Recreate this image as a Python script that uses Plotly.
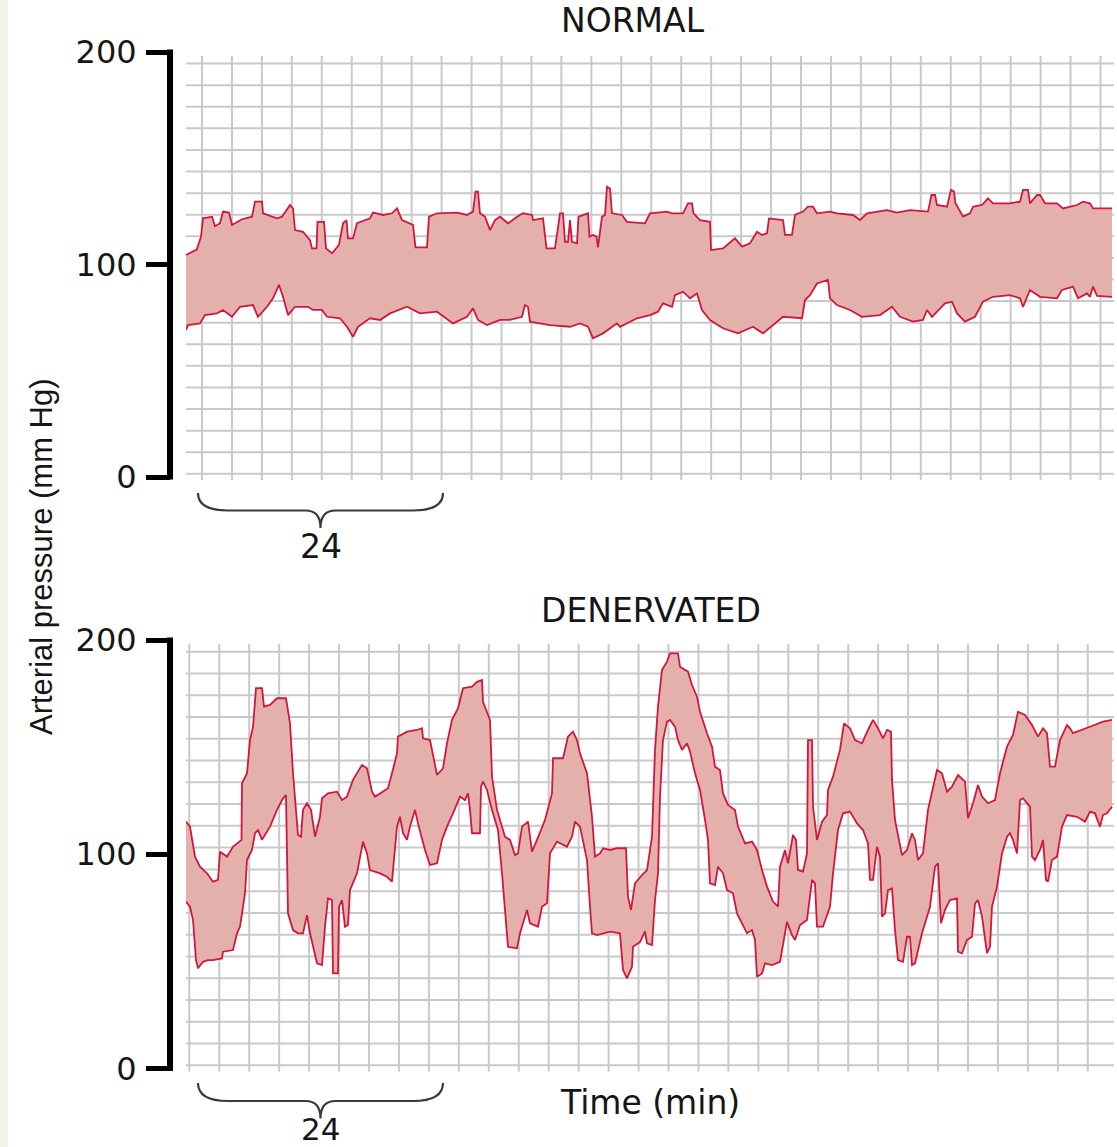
import plotly.graph_objects as go

# ---------------- DATA (time in minutes, pressure in mm Hg) ----------------
normal_sys_t = [0.0, 1.07, 1.5, 1.7, 2.6, 2.9, 3.4, 3.7, 4.3, 4.6, 5.6, 6.6, 6.9, 7.6, 7.7, 9.1, 9.6, 10.4, 10.7, 10.9,
                11.7, 12.4, 12.6, 13.05, 13.15, 13.8, 14.0, 14.6, 15.3, 15.7, 16.05, 16.2, 16.7, 17.1, 18.4, 18.7, 19.7,
                20.6, 21.1, 21.6, 22.7, 22.95, 24.1, 24.3, 25.1, 27.1, 28.1, 28.7, 28.95, 29.2, 29.4, 29.9, 30.4, 30.9,
                31.4, 32.2, 33.1, 33.7, 34.6, 34.7, 35.7, 36.05, 36.9, 37.4, 37.7, 37.9, 38.2, 38.4, 38.6, 39.1, 39.25,
                40.2, 40.35, 40.7, 41.05, 41.2, 41.6, 41.9, 42.1, 42.4, 42.6, 43.6, 44.1, 45.9, 46.4, 48.1, 48.6, 49.7,
                50.2, 50.6, 50.75, 51.4, 52.4, 52.5, 53.7, 54.9, 55.6, 56.4, 57.1, 57.6, 58.1, 58.3, 59.7, 59.9, 60.6,
                60.9, 61.7, 62.2, 62.7, 63.1, 64.4, 65.1, 66.7, 67.4, 68.1, 70.1, 71.1, 72.4, 74.2, 74.55, 74.9, 75.1,
                76.1, 76.5, 76.8, 76.95, 77.7, 78.4, 78.7, 79.6, 80.2, 80.7, 82.4, 83.4, 83.7, 84.2, 84.4, 85.1, 85.4,
                85.9, 87.1, 87.7, 89.1, 89.7, 90.4, 90.7, 92.6]
normal_sys_v = [104.5, 107, 113, 121.7, 122.5, 118, 119.4, 124.9, 124.4, 118.6, 121.3, 122.5, 129.6, 129.6, 124.1, 121.7,
                122.5, 128, 126.4, 116.2, 115.4, 111.5, 107.6, 107.6, 120.1, 120.1, 107.6, 105.3, 109.2, 119.4, 120.9,
                112.3, 112.3, 119.4, 121.7, 124.4, 123.3, 124.1, 126.4, 120.9, 118.6, 108.1, 108.1, 122.5, 124.1, 124.4,
                123.3, 124.9, 134.3, 134.3, 124.1, 122.5, 116.2, 120.9, 122.5, 119.4, 122.5, 124.1, 123.3, 120.9, 121.7,
                107.6, 107.6, 124.1, 124.1, 110.7, 110.7, 120.9, 110.7, 110, 122.5, 124.1, 113.1, 113.9, 113.1, 108.1,
                122.5, 123.3, 136.6, 135.8, 124.1, 123.3, 120.1, 119.4, 124.1, 124.9, 124.1, 124.1, 128.8, 128.8, 124.1,
                120.9, 120.1, 106.8, 107.6, 112.3, 108.4, 110, 115.4, 113.9, 114.7, 121.7, 120.9, 113.9, 113.9, 123.3,
                124.9, 127.2, 127.2, 124.1, 124.9, 124.1, 123.3, 120.9, 124.1, 125.6, 124.4, 125.6, 124.9, 132.7, 132.7,
                128, 127.2, 135.1, 134.3, 128.8, 122.5, 124.1, 127.2, 128, 131.1, 128.8, 128.8, 129.6, 135.1, 135.1,
                128.8, 132.7, 132.7, 128.8, 128.8, 126.4, 128, 129.6, 128.8, 126.4, 126.4]

normal_dia_t = [0.0, 0.2, 1.4, 1.9, 3.1, 3.7, 4.6, 5.4, 6.7, 7.2, 8.1, 8.7, 9.3, 9.7, 10.2, 10.9, 12.2, 12.7, 13.6, 14.1,
                15.4, 16.1, 16.7, 17.2, 18.4, 19.4, 20.4, 22.1, 23.4, 25.1, 26.7, 28.1, 28.7, 29.2, 30.1, 31.4, 32.4,
                33.6, 33.9, 34.2, 34.4, 36.4, 38.4, 39.4, 40.2, 40.7, 41.7, 43.1, 43.4, 45.1, 46.4, 47.2, 47.7, 48.6,
                48.9, 49.7, 50.4, 51.1, 51.6, 52.4, 53.7, 55.2, 56.7, 57.7, 59.7, 61.6, 61.9, 62.4, 63.1, 64.2, 64.4,
                65.1, 66.4, 67.6, 69.4, 70.6, 71.4, 72.7, 73.7, 74.1, 74.6, 75.9, 76.6, 77.1, 77.9, 78.9, 79.7, 80.7,
                82.4, 83.4, 83.7, 84.4, 85.4, 87.1, 87.6, 88.7, 89.2, 90.1, 90.4, 90.7, 91.1, 92.6]
normal_dia_v = [69.2, 71.5, 72.3, 76.2, 77, 78.6, 75.4, 80.1, 80.9, 75.4, 80.1, 84.1, 90.4, 84.8, 76.2, 80.1, 80.1, 78.6,
                78.6, 75.4, 74.7, 70.7, 66, 70.7, 74.7, 73.9, 77, 80.1, 77, 77.8, 72.3, 75.4, 79.4, 73.9, 71.5, 73.9,
                73.9, 75.4, 80.9, 80.1, 73.1, 71.5, 70.7, 72.3, 70.7, 65.3, 67.6, 72.3, 70.7, 74.7, 76.2, 77.8, 81.7,
                80.1, 85.6, 87.2, 84.1, 86.4, 78.6, 73.9, 70, 67.6, 70.7, 67.6, 75.4, 74.7, 83.3, 85.6, 91.1, 92.7,
                84.1, 80.9, 78.6, 75.4, 76.2, 80.1, 75.4, 73.1, 73.9, 78.6, 75.4, 81.7, 82.5, 77, 73.1, 75.4, 82.5,
                84.8, 85.6, 84.1, 80.1, 88, 84.8, 84.1, 88, 89.6, 84.1, 86.4, 84.8, 89.6, 85.2, 84.8]

denerv_sys_t = [0.0, 0.4, 0.9, 1.4, 2.1, 2.7, 3.2, 3.4, 4.1, 4.7, 5.55, 5.6, 6.1, 6.4, 6.7, 7.0, 7.6, 7.8, 8.4, 9.1,
                10.0, 10.4, 10.7, 10.9, 11.2, 11.5, 11.7, 12.1, 12.5, 12.9, 13.4, 13.6, 14.2, 15.1, 15.6, 16.1, 16.7,
                17.6, 18.1, 18.6, 18.9, 19.4, 20.2, 20.6, 21.1, 21.2, 22.1, 23.1, 23.6, 23.7, 24.4, 25.1, 25.7, 26.1,
                26.6, 27.2, 27.7, 28.6, 29.1, 29.6, 29.7, 30.4, 30.6, 31.1, 31.9, 32.4, 32.9, 33.2, 33.6, 34.2, 34.6,
                35.1, 35.9, 36.6, 36.7, 37.7, 38.2, 38.7, 39.1, 39.4, 40.1, 40.6, 40.9, 41.4, 41.7, 42.4, 43.1, 44.0,
                44.2, 44.5, 44.9, 45.6, 46.1, 46.6, 46.9, 47.2, 47.6, 48.1, 48.4, 49.2, 49.4, 50.2, 50.6, 51.1, 51.4,
                52.1, 52.6, 52.9, 53.4, 53.7, 54.2, 54.9, 55.2, 55.9, 56.6, 57.1, 57.6, 58.1, 58.7, 59.2, 59.4, 59.9,
                60.2, 60.7, 61.0, 61.2, 61.7, 62.1, 62.2, 62.6, 62.7, 63.1, 63.6, 64.1, 64.2, 64.7, 65.4, 65.8, 66.4,
                66.9, 67.6, 68.2, 68.7, 69.2, 69.7, 70.1, 70.5, 70.6, 70.9, 71.6, 72.1, 72.6, 72.9, 73.2, 73.7, 74.2,
                74.6, 75.1, 75.6, 76.1, 76.6, 77.2, 77.9, 78.2, 78.7, 79.2, 79.6, 80.2, 80.9, 81.4, 82.1, 82.7, 83.2,
                83.9, 84.6, 85.2, 85.7, 86.1, 86.4, 86.9, 87.4, 88.1, 88.4, 88.7, 90.4, 91.7, 92.6]
denerv_sys_v = [115.2, 112.9, 98.9, 94.2, 91.1, 87.2, 88, 101.2, 98.9, 103.5, 106.7, 133.1, 137.8, 153.3, 159.5, 177.5,
                177.5, 168.9, 169.7, 172.8, 172.8, 161.1, 137.8, 126.9, 109, 108.2, 120.7, 123.8, 120.7, 108.2, 117.5,
                126.1, 128.4, 129.2, 125.3, 126.9, 134.7, 141.7, 140.1, 129.2, 126.9, 128.4, 130.8, 137.8, 147.1, 154.9,
                157.2, 158, 158.8, 154.1, 153.3, 137, 140.1, 151.8, 162.7, 168.1, 177.5, 178.2, 180.5, 181.3, 171.2,
                162.7, 136.2, 120.7, 108.2, 106.7, 99.6, 100.4, 112.9, 115.2, 101.2, 106.7, 116, 128.4, 144.8, 144.8,
                154.9, 157.2, 153.3, 147.1, 137.8, 117.5, 98.9, 100.4, 102.8, 102, 102.8, 102.8, 80.2, 74, 86.4, 90.3,
                92.6, 108.2, 148.7, 168.9, 186, 189.9, 193.8, 193.8, 187.5, 185.2, 179, 173.5, 166.5, 156.5, 150.2,
                140.9, 139.3, 128.4, 123, 120.7, 112.9, 105.1, 105.9, 102, 92.6, 84.9, 77.9, 75.5, 94.2, 102, 95.8,
                109, 106.7, 92.6, 91.9, 100.4, 153.3, 153.3, 122.2, 106.7, 115.2, 118.3, 130, 136.2, 148.7, 161.1,
                158.8, 153.3, 151.8, 158, 162.7, 158.8, 154.1, 158, 157.2, 134.7, 116, 99.6, 102, 109.8, 106.7, 97.3,
                100.4, 120.7, 128.4, 139.3, 137.8, 129.2, 131.5, 137, 133.9, 116.8, 123.8, 132.3, 126.9, 123.8, 125.3,
                137.8, 150.2, 155.7, 166.5, 165, 160.3, 154.9, 158.8, 156.5, 140.9, 140.9, 153.3, 160.3, 158.8, 156.5,
                159.5, 161.9, 162.7]

denerv_dia_t = [0.0, 0.4, 0.7, 1.0, 1.2, 1.7, 2.2, 2.7, 3.6, 3.7, 4.7, 5.1, 5.4, 5.7, 5.9, 6.1, 6.6, 6.9, 7.2, 7.6, 8.4,
                9.1, 9.6, 10.0, 10.1, 10.2, 10.7, 11.2, 11.7, 12.1, 12.4, 12.7, 13.1, 13.6, 13.9, 14.2, 14.6, 14.7,
                15.2, 15.3, 15.6, 15.9, 16.2, 16.4, 17.1, 17.7, 18.1, 18.4, 19.4, 20.1, 20.6, 21.1, 21.4, 21.7, 22.1,
                22.4, 22.9, 23.2, 23.9, 24.4, 25.1, 25.6, 26.1, 26.7, 27.4, 27.9, 28.2, 28.4, 28.6, 29.4, 29.5, 29.7,
                30.1, 30.6, 31.2, 31.6, 31.9, 32.2, 33.1, 33.4, 34.1, 34.4, 35.2, 35.6, 36.1, 36.4, 37.1, 38.1, 38.6,
                38.9, 39.4, 40.1, 40.4, 40.6, 41.1, 41.7, 42.4, 43.4, 43.7, 44.1, 44.6, 44.7, 45.4, 45.9, 46.1, 46.6,
                46.9, 47.2, 47.4, 47.7, 48.1, 48.4, 48.9, 49.2, 49.6, 50.1, 50.4, 50.9, 51.4, 51.9, 52.2, 52.4, 52.9,
                53.2, 53.7, 54.1, 54.7, 55.1, 55.6, 56.1, 56.6, 56.9, 57.1, 57.6, 57.9, 58.6, 59.4, 59.7, 60.1, 60.6,
                60.9, 61.4, 62.1, 62.6, 62.9, 63.1, 63.7, 64.4, 64.7, 65.2, 65.7, 66.4, 67.1, 67.7, 68.2, 68.4, 68.7,
                69.1, 69.4, 69.6, 69.9, 70.2, 70.6, 70.9, 71.2, 71.7, 72.1, 72.4, 72.6, 72.9, 73.6, 74.4, 74.9, 75.2,
                75.5, 75.9, 76.4, 77.1, 77.2, 77.6, 78.1, 78.6, 78.9, 79.2, 79.6, 80.1, 80.4, 80.6, 81.1, 81.6, 82.1,
                82.4, 82.7, 83.1, 83.4, 83.7, 84.4, 84.6, 84.9, 85.4, 85.7, 86.0, 86.2, 86.6, 87.1, 87.6, 88.1, 89.1,
                89.9, 90.4, 90.9, 91.4, 91.7, 92.1, 92.6]
denerv_dia_v = [77.9, 75.5, 69.3, 50.6, 46.8, 49.8, 50.6, 50.6, 51.4, 54.5, 55.3, 63.1, 66.2, 75.5, 81.8, 97.3, 102, 109.8,
                111.3, 106.7, 112.9, 120.7, 125.3, 127.7, 106.7, 72.4, 64.6, 63.1, 63.1, 71.6, 63.1, 56.8, 49.1, 48.3,
                66.2, 79.4, 78.6, 44.4, 44.4, 75.5, 78.6, 66.2, 67, 83.3, 91.1, 105.9, 100.4, 92.6, 91.1, 89.5, 87.2,
                112.9, 117.5, 109.8, 106.7, 112.9, 120.7, 114.4, 102, 95, 95.8, 106.7, 112.9, 119.1, 126.9, 125.3,
                128.4, 120.7, 109.8, 109.8, 131.5, 133.9, 130, 120.7, 111.3, 91.1, 72.4, 56.8, 56.1, 63.1, 74, 67.8,
                66.2, 75.5, 77.1, 100.4, 105.9, 103.5, 108.2, 115.2, 112.9, 97.3, 75.5, 63.1, 62.3, 63.1, 63.9, 63.1,
                46, 42.1, 47.5, 56.8, 59, 64, 58.4, 57.6, 78.6, 91.1, 126.9, 153.3, 161.9, 162.7, 159.5, 153.3, 148.7,
                151.8, 147.9, 137.8, 130, 116, 106.7, 86.4, 85.6, 94.2, 91.1, 83.3, 81.8, 72.4, 67.8, 63.1, 64.6, 60,
                42.8, 44.4, 49.1, 48.3, 49.8, 58.4, 68.5, 62.3, 60, 67, 69.3, 88, 86.4, 66.2, 66.2, 75.5, 91.1, 111.3,
                119.1, 119.9, 114.4, 111.3, 105.1, 88, 88, 103.5, 98.9, 70.9, 72.4, 83.3, 84.1, 64.6, 50.6, 49.8, 61.5,
                61.5, 48.3, 49.1, 63.1, 75.5, 94.2, 95.8, 67.8, 74, 78.6, 79.4, 54.5, 53.8, 60, 61.5, 77.1, 78.6, 70.9,
                53.8, 56.8, 75.5, 84.9, 100.4, 108.2, 109.8, 106.7, 100.4, 125.3, 126.1, 122.2, 98.9, 97.3, 102, 106.7,
                88, 87.2, 97.3, 98.9, 112.9, 118.3, 117.5, 115.2, 119.9, 119.1, 112.9, 118.3, 119.1, 122.2]

panel_titles = ["NORMAL", "DENERVATED"]
y_tick_vals = [0, 100, 200]
y_tick_text = ["0", "100", "200"]
brace_span = [1.2, 25.7]      # minutes covered by the brace
brace_label = "24"
x_title = "Time (min)"
y_title = "Arterial pressure (mm Hg)"

# ---------------- STYLE ----------------
W, H = 1117, 1147
FILL = "#e3b0ab"
EDGE = "#d2173f"
GRID = "#c9c9c9"
INK = "#161616"
FONT = "DejaVu Sans"

X_RANGE = [0, 92.8]
Y_RANGE = [-3, 203]
X_DOMAIN = [186 / W, 1114 / W]
Y_DOMAINS = [[0.578575, 0.960223], [0.062834, 0.447628]]
AXIS_POS = 170 / W


def py(px):
    return 1 - px / H


fig = go.Figure()

panels = [
    (normal_sys_t, normal_sys_v, normal_dia_t, normal_dia_v, "x", "y"),
    (denerv_sys_t, denerv_sys_v, denerv_dia_t, denerv_dia_v, "x2", "y2"),
]
for st, sv, dt, dv, xa, ya in panels:
    fig.add_trace(go.Scatter(
        x=st + dt[::-1], y=sv + dv[::-1], fill="toself", fillcolor=FILL,
        mode="lines", line=dict(width=0), xaxis=xa, yaxis=ya, hoverinfo="skip", showlegend=False))
    for tt, vv in ((st, sv), (dt, dv)):
        fig.add_trace(go.Scatter(
            x=tt, y=vv, mode="lines", line=dict(color=EDGE, width=1.8),
            xaxis=xa, yaxis=ya, showlegend=False))

shapes = []
# left cream strip
shapes.append(dict(type="rect", xref="paper", yref="paper", x0=0, x1=8 / W, y0=0, y1=1,
                   fillcolor="#f5f2e8", line=dict(width=0), layer="below"))

grid_levels = [1.5 + 10.16 * k for k in range(20)]
grid_starts = [1.6, 0.33]
for i, (xa, ya) in enumerate((("x", "y"), ("x2", "y2"))):
    for lv in grid_levels:
        shapes.append(dict(type="line", xref=xa, yref=ya, x0=X_RANGE[0], x1=X_RANGE[1], y0=lv, y1=lv,
                           line=dict(color=GRID, width=2), layer="below"))
    for k in range(31):
        xv = grid_starts[i] + 2.995 * k
        shapes.append(dict(type="line", xref=xa, yref=ya, x0=xv, x1=xv, y0=-1.4, y1=198.1,
                           line=dict(color=GRID, width=2), layer="below"))
    # black y-axis bar
    shapes.append(dict(type="line", xref="paper", yref=ya, x0=AXIS_POS, x1=AXIS_POS, y0=-1.2, y1=201.2,
                       line=dict(color="black", width=6)))

# braces under each panel
brace_rows = [(493, 510.5, 528), (1083, 1101, 1118.5)]
b0, b1 = brace_span
bc = (b0 + b1) / 2
for (ytop, ymid, ypt), xa in zip(brace_rows, ("x", "x2")):
    yt, ym, yp = py(ytop), py(ymid), py(ypt)
    path = (f"M {b0},{yt} Q {b0},{ym} {b0 + 3},{ym} L {bc - 1.5},{ym} "
            f"Q {bc},{ym} {bc},{yp} Q {bc},{ym} {bc + 1.5},{ym} L {b1 - 3},{ym} "
            f"Q {b1},{ym} {b1},{yt}")
    shapes.append(dict(type="path", xref=xa, yref="paper", path=path,
                       line=dict(color="#3a3a3a", width=2.2)))

TF = 33
annotations = [
    dict(text=panel_titles[0], x=633 / W, y=py(20), xref="paper", yref="paper", showarrow=False,
         font=dict(size=TF, color=INK, family=FONT), xanchor="center", yanchor="middle"),
    dict(text=panel_titles[1], x=651 / W, y=py(610), xref="paper", yref="paper", showarrow=False,
         font=dict(size=TF, color=INK, family=FONT), xanchor="center", yanchor="middle"),
    dict(text=x_title, x=650 / W, y=py(1102), xref="paper", yref="paper", showarrow=False,
         font=dict(size=TF, color=INK, family=FONT), xanchor="center", yanchor="middle"),
    dict(text=y_title, x=41 / W, y=py(557), xref="paper", yref="paper", showarrow=False, textangle=-90,
         font=dict(size=31, color=INK, family="Liberation Sans"), xanchor="center", yanchor="middle"),
    dict(text=brace_label, x=bc, y=py(546), xref="x", yref="paper", showarrow=False,
         font=dict(size=TF, color=INK, family=FONT), xanchor="center", yanchor="middle"),
    dict(text=brace_label, x=bc, y=py(1129), xref="x2", yref="paper", showarrow=False,
         font=dict(size=31, color=INK, family=FONT), xanchor="center", yanchor="middle"),
]

xaxis_common = dict(domain=X_DOMAIN, range=X_RANGE, visible=False, fixedrange=True)
yaxis_common = dict(range=Y_RANGE, anchor="free", position=AXIS_POS, showline=False, showgrid=False,
                    zeroline=False, ticks="outside", ticklen=24, tickwidth=5, tickcolor="black",
                    tickvals=y_tick_vals, ticktext=y_tick_text, ticklabelstandoff=3, automargin=False,
                    tickfont=dict(size=32, color=INK, family=FONT), fixedrange=True)

fig.update_layout(
    width=W, height=H, margin=dict(l=0, r=0, t=0, b=0, pad=0, autoexpand=False), autosize=False,
    paper_bgcolor="white", plot_bgcolor="white", showlegend=False,
    font=dict(family=FONT, color=INK),
    xaxis=dict(anchor="y", **xaxis_common),
    xaxis2=dict(anchor="y2", **xaxis_common),
    yaxis=dict(domain=Y_DOMAINS[0], **yaxis_common),
    yaxis2=dict(domain=Y_DOMAINS[1], **yaxis_common),
    shapes=shapes, annotations=annotations,
)

fig.write_html("out.html", config={"displayModeBar": False},
               post_script="document.body.style.margin='0';document.body.style.overflow='hidden';")
